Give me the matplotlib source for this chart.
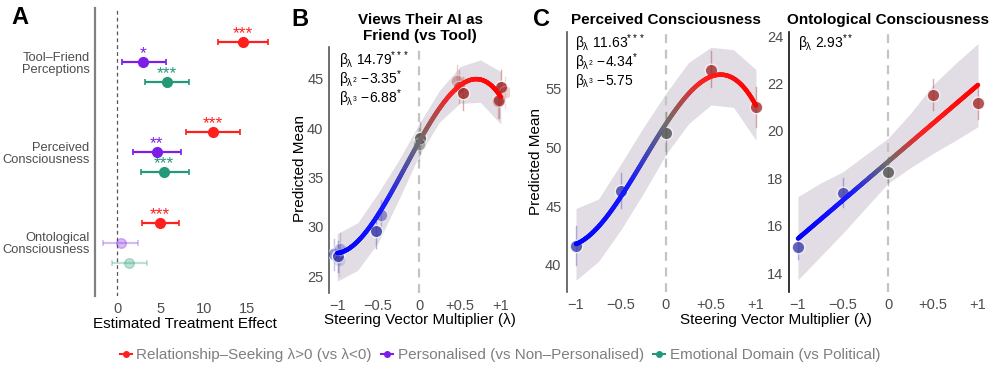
import numpy as np
import matplotlib
matplotlib.use('Agg')
from matplotlib import pyplot as plt
from matplotlib.collections import LineCollection
from matplotlib.colors import LinearSegmentedColormap
from matplotlib.lines import Line2D

plt.rcParams['font.family'] = ['Liberation Sans', 'DejaVu Sans']
plt.rcParams['mathtext.fontset'] = 'custom'
plt.rcParams['mathtext.rm'] = 'Liberation Sans'
plt.rcParams['mathtext.it'] = 'Liberation Sans'
plt.rcParams['mathtext.bf'] = 'Liberation Sans:bold'

# ---- panel A: treatment effects ----
A_OUTCOMES = ['Tool–Friend\nPerceptions', 'Perceived\nConsciousness', 'Ontological\nConsciousness']
A_SERIES = ['Relationship–Seeking λ>0 (vs λ<0)', 'Personalised (vs Non–Personalised)',
            'Emotional Domain (vs Political)']
rel_est = [14.55, 11.08, 4.95]
rel_lo = [11.65, 7.92, 2.80]
rel_hi = [17.36, 14.16, 7.14]
rel_sig = ['***', '***', '***']
pers_est = [2.98, 4.53, 0.37]
pers_lo = [0.49, 1.76, -1.71]
pers_hi = [5.57, 7.34, 2.40]
pers_sig = ['*', '**', '']
emo_est = [5.76, 5.41, 1.36]
emo_lo = [3.18, 2.68, -0.67]
emo_hi = [8.30, 8.27, 3.38]
emo_sig = ['***', '***', '']

# ---- panels B-D: steering vector multiplier ----
LAMBDA_TICKS = [-1, -0.5, 0, 0.5, 1]
LAMBDA_LABELS = ['−1', '−0.5', '0', '+0.5', '+1']
band_lam = [-1, -0.75, -0.5, -0.25, 0, 0.25, 0.5, 0.75, 1]

# B: Views their AI as friend
b_coef = [38.6, 14.79, -3.35, -6.88]   # intercept, lambda, lambda^2, lambda^3
b_band_lo = [24.5, 25.6, 28.4, 32.7, 37.2, 40.6, 42.5, 42.6, 40.4]
b_band_hi = [29.3, 30.4, 33.4, 36.7, 40.4, 43.8, 46.2, 46.9, 45.7]
b_pt_lam = [-1.04, -0.99, -0.97, -0.98, -0.53, -0.47, 0.01, 0.0, 0.47, 0.49, 0.54, 1.0, 0.98, 1.05, 0.97]
b_pt_val = [27.2, 27.0, 27.8, 26.6, 29.6, 31.2, 39.0, 38.4, 44.8, 44.2, 43.5, 44.2, 42.8, 43.6, 42.7]
b_pt_lo = [25.6, 25.4, 26.2, 25.0, 27.9, 29.8, 37.4, 36.8, 43.2, 42.5, 41.8, 42.5, 41.0, 42.0, 41.0]
b_pt_hi = [28.8, 28.6, 29.4, 28.2, 31.3, 32.7, 40.6, 40.0, 46.4, 45.9, 45.2, 45.9, 44.6, 45.2, 44.4]
b_pt_alpha = [0.55, 0.9, 0.35, 0.15, 0.85, 0.5, 0.85, 0.4, 0.35, 0.5, 0.85, 0.85, 0.8, 0.2, 0.35]
b_stats = [r'$\beta_{\lambda}$ 14.79$^{***}$', r'$\beta_{\lambda^2}$ −3.35$^{*}$', r'$\beta_{\lambda^3}$ −6.88$^{*}$']

# C: Perceived consciousness
c_coef = [52.0, 11.63, -4.34, -5.75]
c_band_lo = [38.7, 40.3, 43.0, 46.1, 49.4, 52.0, 53.6, 53.4, 50.6]
c_band_hi = [44.8, 45.6, 48.6, 51.7, 54.6, 57.2, 58.5, 58.3, 56.6]
c_pt_lam = [-1, -0.5, 0, 0.5, 1]
c_pt_val = [41.6, 46.3, 51.2, 56.6, 53.4]
c_pt_lo = [40.0, 44.8, 49.4, 55.1, 51.7]
c_pt_hi = [43.3, 47.8, 53.0, 58.2, 55.1]
c_stats = [r'$\beta_{\lambda}$ 11.63$^{***}$', r'$\beta_{\lambda^2}$ −4.34$^{*}$', r'$\beta_{\lambda^3}$ −5.75']

# D: Ontological consciousness
d_coef = [18.70, 3.245]
d_band_lo = [13.72, 14.70, 15.69, 16.74, 17.79, 18.45, 19.05, 19.60, 20.18]
d_band_hi = [17.23, 17.80, 18.28, 18.99, 19.69, 20.74, 21.94, 22.85, 23.69]
d_pt_lam = [-1, -0.5, 0, 0.5, 1]
d_pt_val = [15.12, 17.37, 18.27, 21.54, 21.19]
d_pt_lo = [14.6, 16.8, 17.7, 20.9, 20.5]
d_pt_hi = [15.6, 18.0, 18.9, 22.2, 21.9]
d_stats = [r'$\beta_{\lambda}$ 2.93$^{**}$']

RED = '#ff1f1f'
PURPLE = '#7f1de8'
GREEN = '#23997a'
TICK_C = '#4d4d4d'
BAND_C = '#e2dce4'

W, H = 996, 374
fig = plt.figure(figsize=(W / 100, H / 100), dpi=100)


def box(x0, y0, x1, y1):
    return [x0 / W, 1 - y1 / H, (x1 - x0) / W, (y1 - y0) / H]


def px(x, y):
    return x / W, 1 - y / H


# ---------- panel A ----------
axA = fig.add_axes(box(95, 8, 286, 296))
centers = np.array([3, 2, 1])
series = [(rel_est, rel_lo, rel_hi, rel_sig, RED, 0.222),
          (pers_est, pers_lo, pers_hi, pers_sig, PURPLE, 0.0),
          (emo_est, emo_lo, emo_hi, emo_sig, GREEN, -0.222)]
axA.axvline(0, color='#555555', lw=0.9, ls=(0, (3, 2.5)), zorder=1)
for est, lo, hi, sig, col, off in series:
    for k in range(3):
        y = centers[k] + off
        a = 1.0 if sig[k] else 0.3
        axA.errorbar(est[k], y, xerr=[[est[k] - lo[k]], [hi[k] - est[k]]], fmt='o', color=col,
                     ms=7, lw=1.6, capsize=2.5, capthick=1.2, alpha=a, zorder=3)
        if sig[k]:
            axA.text(est[k], y + 0.045, sig[k], color=col, ha='center', va='baseline', fontsize=12.5)
axA.set_xlim(-2.6, 19.5)
axA.set_ylim(0.41, 3.6)
axA.set_xticks([0, 5, 10, 15])
axA.set_yticks(centers)
axA.set_yticklabels(A_OUTCOMES, fontsize=9.3, color=TICK_C, ha='right', linespacing=1.0)
axA.tick_params(axis='x', length=0, labelsize=10.5, labelcolor=TICK_C, pad=4)
axA.tick_params(axis='y', length=0, pad=4)
for s in ['top', 'right', 'bottom']:
    axA.spines[s].set_visible(False)
axA.spines['left'].set_color('#808080')
axA.spines['left'].set_linewidth(1.6)
fig.text(*px(185, 324), 'Estimated Treatment Effect', ha='center', va='center', fontsize=11)

cmap = LinearSegmentedColormap.from_list('steer', [(0, '#0000ff'), (0.3, '#1a1aff'), (0.5, '#6e6e6e'),
                                                  (0.7, '#ff2020'), (1, '#ff0000')])


def steer_panel(ax, coef, blo, bhi, plam, pval, plo, phi, palpha, stats, stat_xy, ylim, ticks, spine_col):
    ax.fill_between(band_lam, blo, bhi, color=BAND_C, lw=0, zorder=1)
    ax.axvline(0, color='#c4c4c4', lw=1.6, ls=(0, (4, 3)), zorder=2)
    for i in range(len(plam)):
        col = '#3a3aa8' if plam[i] < -0.2 else ('#a02a2a' if plam[i] > 0.2 else '#505050')
        ax.plot([plam[i], plam[i]], [plo[i], phi[i]], color=col, lw=1, alpha=0.35 * palpha[i] + 0.1, zorder=3)
        ax.scatter(plam[i], pval[i], s=80, color=col, alpha=palpha[i], edgecolors='white',
                   linewidths=1, zorder=4)
    lam = np.linspace(-1, 1, 300)
    fit = np.polyval(coef[::-1], lam)
    pts = np.column_stack([lam, fit]).reshape(-1, 1, 2)
    segs = np.concatenate([pts[:-1], pts[1:]], axis=1)
    lc = LineCollection(segs, cmap=cmap, linewidths=3.2, capstyle='round', zorder=5)
    lc.set_array((lam[:-1] + 1) / 2)
    lc.set_clim(0, 1)
    ax.add_collection(lc)
    ax.set_xlim(-1.1, 1.1)
    ax.set_ylim(*ylim)
    ax.set_xticks(LAMBDA_TICKS)
    ax.set_xticklabels(LAMBDA_LABELS)
    ax.set_yticks(ticks)
    ax.tick_params(length=0, labelsize=10.5, labelcolor=TICK_C, pad=4)
    for s in ['top', 'right', 'bottom']:
        ax.spines[s].set_visible(False)
    ax.spines['left'].set_color(spine_col)
    ax.spines['left'].set_linewidth(1.2)
    for j, t in enumerate(stats):
        fig.text(*px(stat_xy[0], stat_xy[1] + 19 * j), t, ha='left', va='center', fontsize=10)


axB = fig.add_axes(box(329, 47, 509, 293))
steer_panel(axB, b_coef, b_band_lo, b_band_hi, b_pt_lam, b_pt_val, b_pt_lo, b_pt_hi, b_pt_alpha,
            b_stats, (339, 60), (23.3, 48.2), [25, 30, 35, 40, 45], '#555555')

axC = fig.add_axes(box(567, 32, 765, 292))
steer_panel(axC, c_coef, c_band_lo, c_band_hi, c_pt_lam, c_pt_val, c_pt_lo, c_pt_hi, [0.8] * 5,
            c_stats, (575, 43), (37.7, 59.8), [40, 45, 50, 55], '#555555')

axD = fig.add_axes(box(789, 32, 987, 292))
steer_panel(axD, d_coef, d_band_lo, d_band_hi, d_pt_lam, d_pt_val, d_pt_lo, d_pt_hi, [0.8] * 5,
            d_stats, (798, 43), (13.2, 24.18), [14, 16, 18, 20, 22, 24], '#111111')

# titles, labels, panel letters
fig.text(*px(420, 28), 'Views Their AI as\nFriend (vs Tool)', ha='center', va='center', fontsize=11,
         fontweight='bold', linespacing=1.1)
fig.text(*px(666, 20), 'Perceived Consciousness', ha='center', va='center', fontsize=11, fontweight='bold')
fig.text(*px(888, 20), 'Ontological Consciousness', ha='center', va='center', fontsize=11, fontweight='bold')
fig.text(*px(20, 17), 'A', ha='center', va='center', fontsize=17, fontweight='bold')
fig.text(*px(300, 19), 'B', ha='center', va='center', fontsize=17, fontweight='bold')
fig.text(*px(542, 20), 'C', ha='center', va='center', fontsize=17, fontweight='bold')
fig.text(*px(300, 168), 'Predicted Mean', ha='center', va='center', rotation=90, fontsize=11)
fig.text(*px(536, 162), 'Predicted Mean', ha='center', va='center', rotation=90, fontsize=11)
fig.text(*px(420, 320), 'Steering Vector Multiplier (λ)', ha='center', va='center', fontsize=11)
fig.text(*px(776, 320), 'Steering Vector Multiplier (λ)', ha='center', va='center', fontsize=11)

handles = [Line2D([0], [0], color=c, marker='o', ms=4, lw=1.5) for c in [RED, PURPLE, GREEN]]
fig.legend(handles, A_SERIES, loc='center', bbox_to_anchor=px(500, 355), ncol=3, frameon=False,
           fontsize=11, labelcolor='#7f7f7f', handlelength=0.8, handletextpad=0.3, columnspacing=0.6)

fig.savefig('out.png', dpi=100, facecolor='white')
